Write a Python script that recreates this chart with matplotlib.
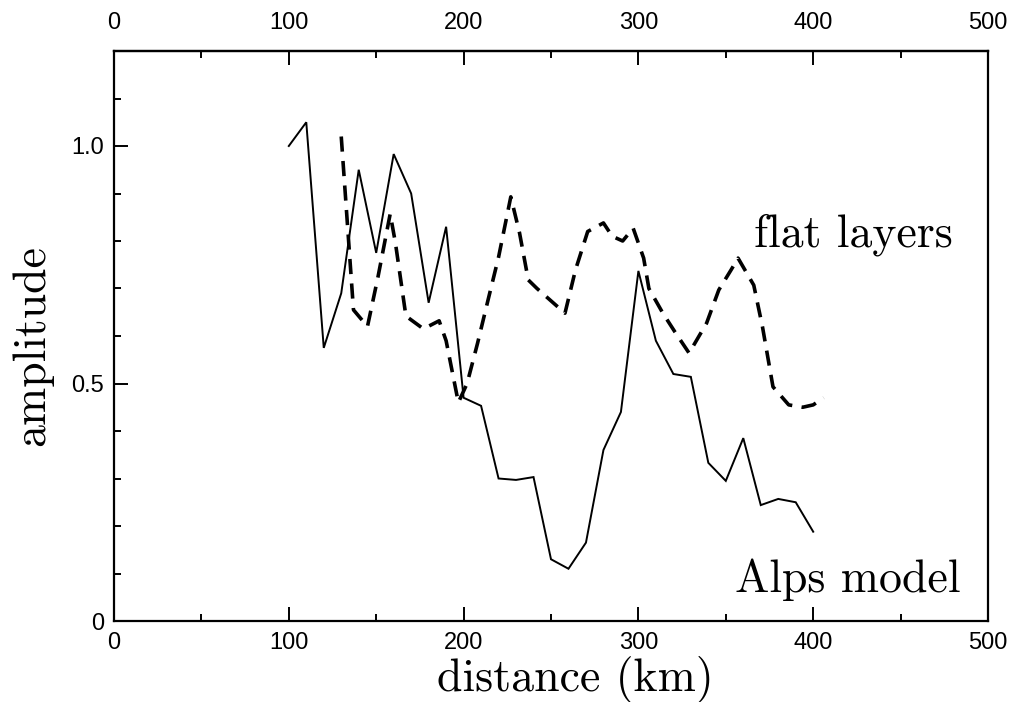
import matplotlib
matplotlib.use("Agg")
import matplotlib.pyplot as plt
from matplotlib.ticker import MultipleLocator, FixedLocator

# Alps model (solid), every 10 km
alps_km = [100, 110, 120, 130, 140, 150, 160, 170, 180, 190, 200, 210, 220, 230, 240, 250,
           260, 270, 280, 290, 300, 310, 320, 330, 340, 350, 360, 370, 380, 390, 400]
alps_amp = [1.0, 1.05, 0.575, 0.69, 0.95, 0.775, 0.983, 0.90, 0.67, 0.83, 0.47, 0.453, 0.30,
            0.297, 0.303, 0.13, 0.11, 0.165, 0.36, 0.44, 0.737, 0.59, 0.52, 0.514, 0.333,
            0.295, 0.385, 0.244, 0.257, 0.25, 0.188]

# flat layers (dashed)
flat_km = [130, 137, 145, 151, 158, 161, 167, 177, 186, 190, 197, 202, 208, 214, 220, 227,
           232, 237, 242, 250, 258, 264, 271, 280, 285, 291, 297, 303, 306, 314, 321, 329,
           339, 346, 353, 357, 366, 371, 377, 386, 394, 400, 406]
flat_amp = [1.02, 0.655, 0.62, 0.724, 0.857, 0.796, 0.642, 0.615, 0.632, 0.59, 0.46, 0.50,
            0.585, 0.676, 0.766, 0.893, 0.817, 0.718, 0.70, 0.674, 0.648, 0.739, 0.82, 0.838,
            0.81, 0.80, 0.827, 0.764, 0.70, 0.648, 0.608, 0.564, 0.627, 0.697, 0.739, 0.764,
            0.707, 0.619, 0.493, 0.455, 0.45, 0.455, 0.47]

x_ticks = [0, 100, 200, 300, 400, 500]
y_ticks = [0, 0.5, 1.0]
y_tick_labels = ["0", "0.5", "1.0"]

serif = "cmr10"
tick_font = {"family": "Liberation Sans", "size": 17}

fig = plt.figure(figsize=(10.14, 7.02), dpi=100)
ax = fig.add_axes([114 / 1014, 81 / 702, 874 / 1014, 570 / 702])

ax.plot(alps_km, alps_amp, color="black", lw=1.4, solid_joinstyle="miter")
ax.plot(flat_km, flat_amp, color="black", lw=2.6, dashes=(4.2, 2.6))

ax.set_xlim(0, 500)
ax.set_ylim(0, 1.2)

for s in ax.spines.values():
    s.set_linewidth(1.6)

# bottom ticks
ax.xaxis.set_major_locator(FixedLocator(x_ticks))
ax.xaxis.set_minor_locator(MultipleLocator(50))
ax.tick_params(axis="x", which="major", direction="in", length=10, width=1.4, pad=8)
ax.tick_params(axis="x", which="minor", direction="in", length=5, width=1.4)

# left ticks
ax.yaxis.set_major_locator(FixedLocator(y_ticks))
ax.yaxis.set_minor_locator(MultipleLocator(0.1))
ax.set_yticklabels(y_tick_labels)
ax.tick_params(axis="y", which="major", direction="in", length=10, width=1.4, pad=7)
ax.tick_params(axis="y", which="minor", direction="in", length=5, width=1.4)

for lab in ax.get_xticklabels() + ax.get_yticklabels():
    lab.set_fontfamily(tick_font["family"])
    lab.set_fontsize(tick_font["size"])

# top axis with its own labels
top = ax.secondary_xaxis("top")
top.xaxis.set_major_locator(FixedLocator(x_ticks))
top.xaxis.set_minor_locator(MultipleLocator(50))
top.tick_params(axis="x", which="major", direction="in", length=10, width=1.4, pad=12)
top.tick_params(axis="x", which="minor", direction="in", length=5, width=1.4)
top.spines["top"].set_linewidth(1.6)
for lab in top.get_xticklabels():
    lab.set_fontfamily(tick_font["family"])
    lab.set_fontsize(tick_font["size"])

# labels
ax.text(0.528, -0.1035, "distance (km)", transform=ax.transAxes, ha="center", va="center",
        family=serif, fontsize=33)
ax.text(-0.094, 0.484, "amplitude", transform=ax.transAxes, ha="center", va="center",
        rotation=90, family=serif, fontsize=33)

ax.text(423, 0.813, "flat layers", ha="center", va="center", family=serif, fontsize=33)
ax.text(420, 0.086, "Alps model", ha="center", va="center", family=serif, fontsize=33)

plt.savefig("out.png", dpi=100)
plt.close()
